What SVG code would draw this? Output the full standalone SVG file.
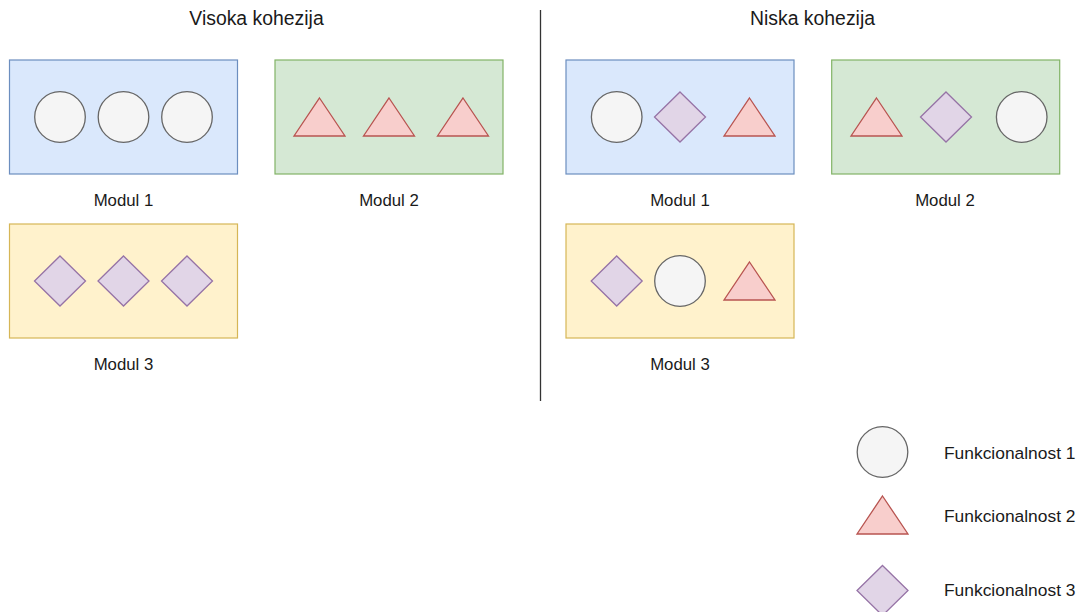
<svg xmlns="http://www.w3.org/2000/svg" width="1078" height="612" viewBox="0 0 1078 612">
<style>
text{font-family:"Liberation Sans",Arial,Helvetica,sans-serif;fill:#1a1a1a}
.title{font-size:19.4px;text-anchor:middle}
.lbl{font-size:16.8px;text-anchor:middle}
.leg{font-size:17.4px}
.blue{fill:#dae8fc;stroke:#6c8ebf;stroke-width:1.2}
.green{fill:#d5e8d4;stroke:#82b366;stroke-width:1.2}
.yellow{fill:#fff2cc;stroke:#d6b656;stroke-width:1.2}
.circ{fill:#f5f5f5;stroke:#666666;stroke-width:1.3}
.tri{fill:#f8cecc;stroke:#b85450;stroke-width:1.3;stroke-linejoin:miter}
.dia{fill:#e1d5e7;stroke:#9673a6;stroke-width:1.3}
</style>
<defs>
<circle id="c" r="25.3" class="circ"/>
<polygon id="t" points="0,-19 25.5,19 -25.5,19" class="tri"/>
<polygon id="d" points="0,-25 25.5,0 0,25 -25.5,0" class="dia"/>
</defs>
<g id="titles">
<text class="title" x="256.5" y="24.5">Visoka kohezija</text>
<text class="title" x="812.5" y="24.5">Niska kohezija</text>
</g>
<g id="connectors">
<line x1="540.5" y1="10" x2="540.5" y2="401" stroke="#333333" stroke-width="1.3"/>
</g>
<g id="hi-modul1">
<rect x="9.5" y="60" width="228" height="114" class="blue"/>
<use href="#c" x="60" y="117"/>
<use href="#c" x="123.5" y="117"/>
<use href="#c" x="187" y="117"/>
<text class="lbl" x="123.5" y="206">Modul 1</text>
</g>
<g id="hi-modul2">
<rect x="275" y="60" width="228" height="114" class="green"/>
<use href="#t" x="319.5" y="117"/>
<use href="#t" x="389" y="117"/>
<use href="#t" x="463" y="117"/>
<text class="lbl" x="389" y="206">Modul 2</text>
</g>
<g id="hi-modul3">
<rect x="9.5" y="224" width="228" height="114" class="yellow"/>
<use href="#d" x="60" y="281"/>
<use href="#d" x="123.5" y="281"/>
<use href="#d" x="187" y="281"/>
<text class="lbl" x="123.5" y="370">Modul 3</text>
</g>
<g id="lo-modul1">
<rect x="566" y="60" width="228" height="114" class="blue"/>
<use href="#c" x="616.7" y="117"/>
<use href="#d" x="680" y="117"/>
<use href="#t" x="749.5" y="117"/>
<text class="lbl" x="680" y="206">Modul 1</text>
</g>
<g id="lo-modul2">
<rect x="831.7" y="60" width="228" height="114" class="green"/>
<use href="#t" x="876.5" y="117"/>
<use href="#d" x="946" y="117"/>
<use href="#c" x="1021.7" y="117"/>
<text class="lbl" x="945" y="206">Modul 2</text>
</g>
<g id="lo-modul3">
<rect x="566" y="224" width="228" height="114" class="yellow"/>
<use href="#d" x="616.7" y="281"/>
<use href="#c" x="680" y="281"/>
<use href="#t" x="749.5" y="281"/>
<text class="lbl" x="680" y="370">Modul 3</text>
</g>
<g id="legend1">
<use href="#c" x="882.5" y="452"/>
<text class="leg" x="944" y="459">Funkcionalnost 1</text>
</g>
<g id="legend2">
<use href="#t" x="882.5" y="515"/>
<text class="leg" x="944" y="521.5">Funkcionalnost 2</text>
</g>
<g id="legend3">
<use href="#d" x="882.5" y="590.5"/>
<text class="leg" x="944" y="596">Funkcionalnost 3</text>
</g>
</svg>
